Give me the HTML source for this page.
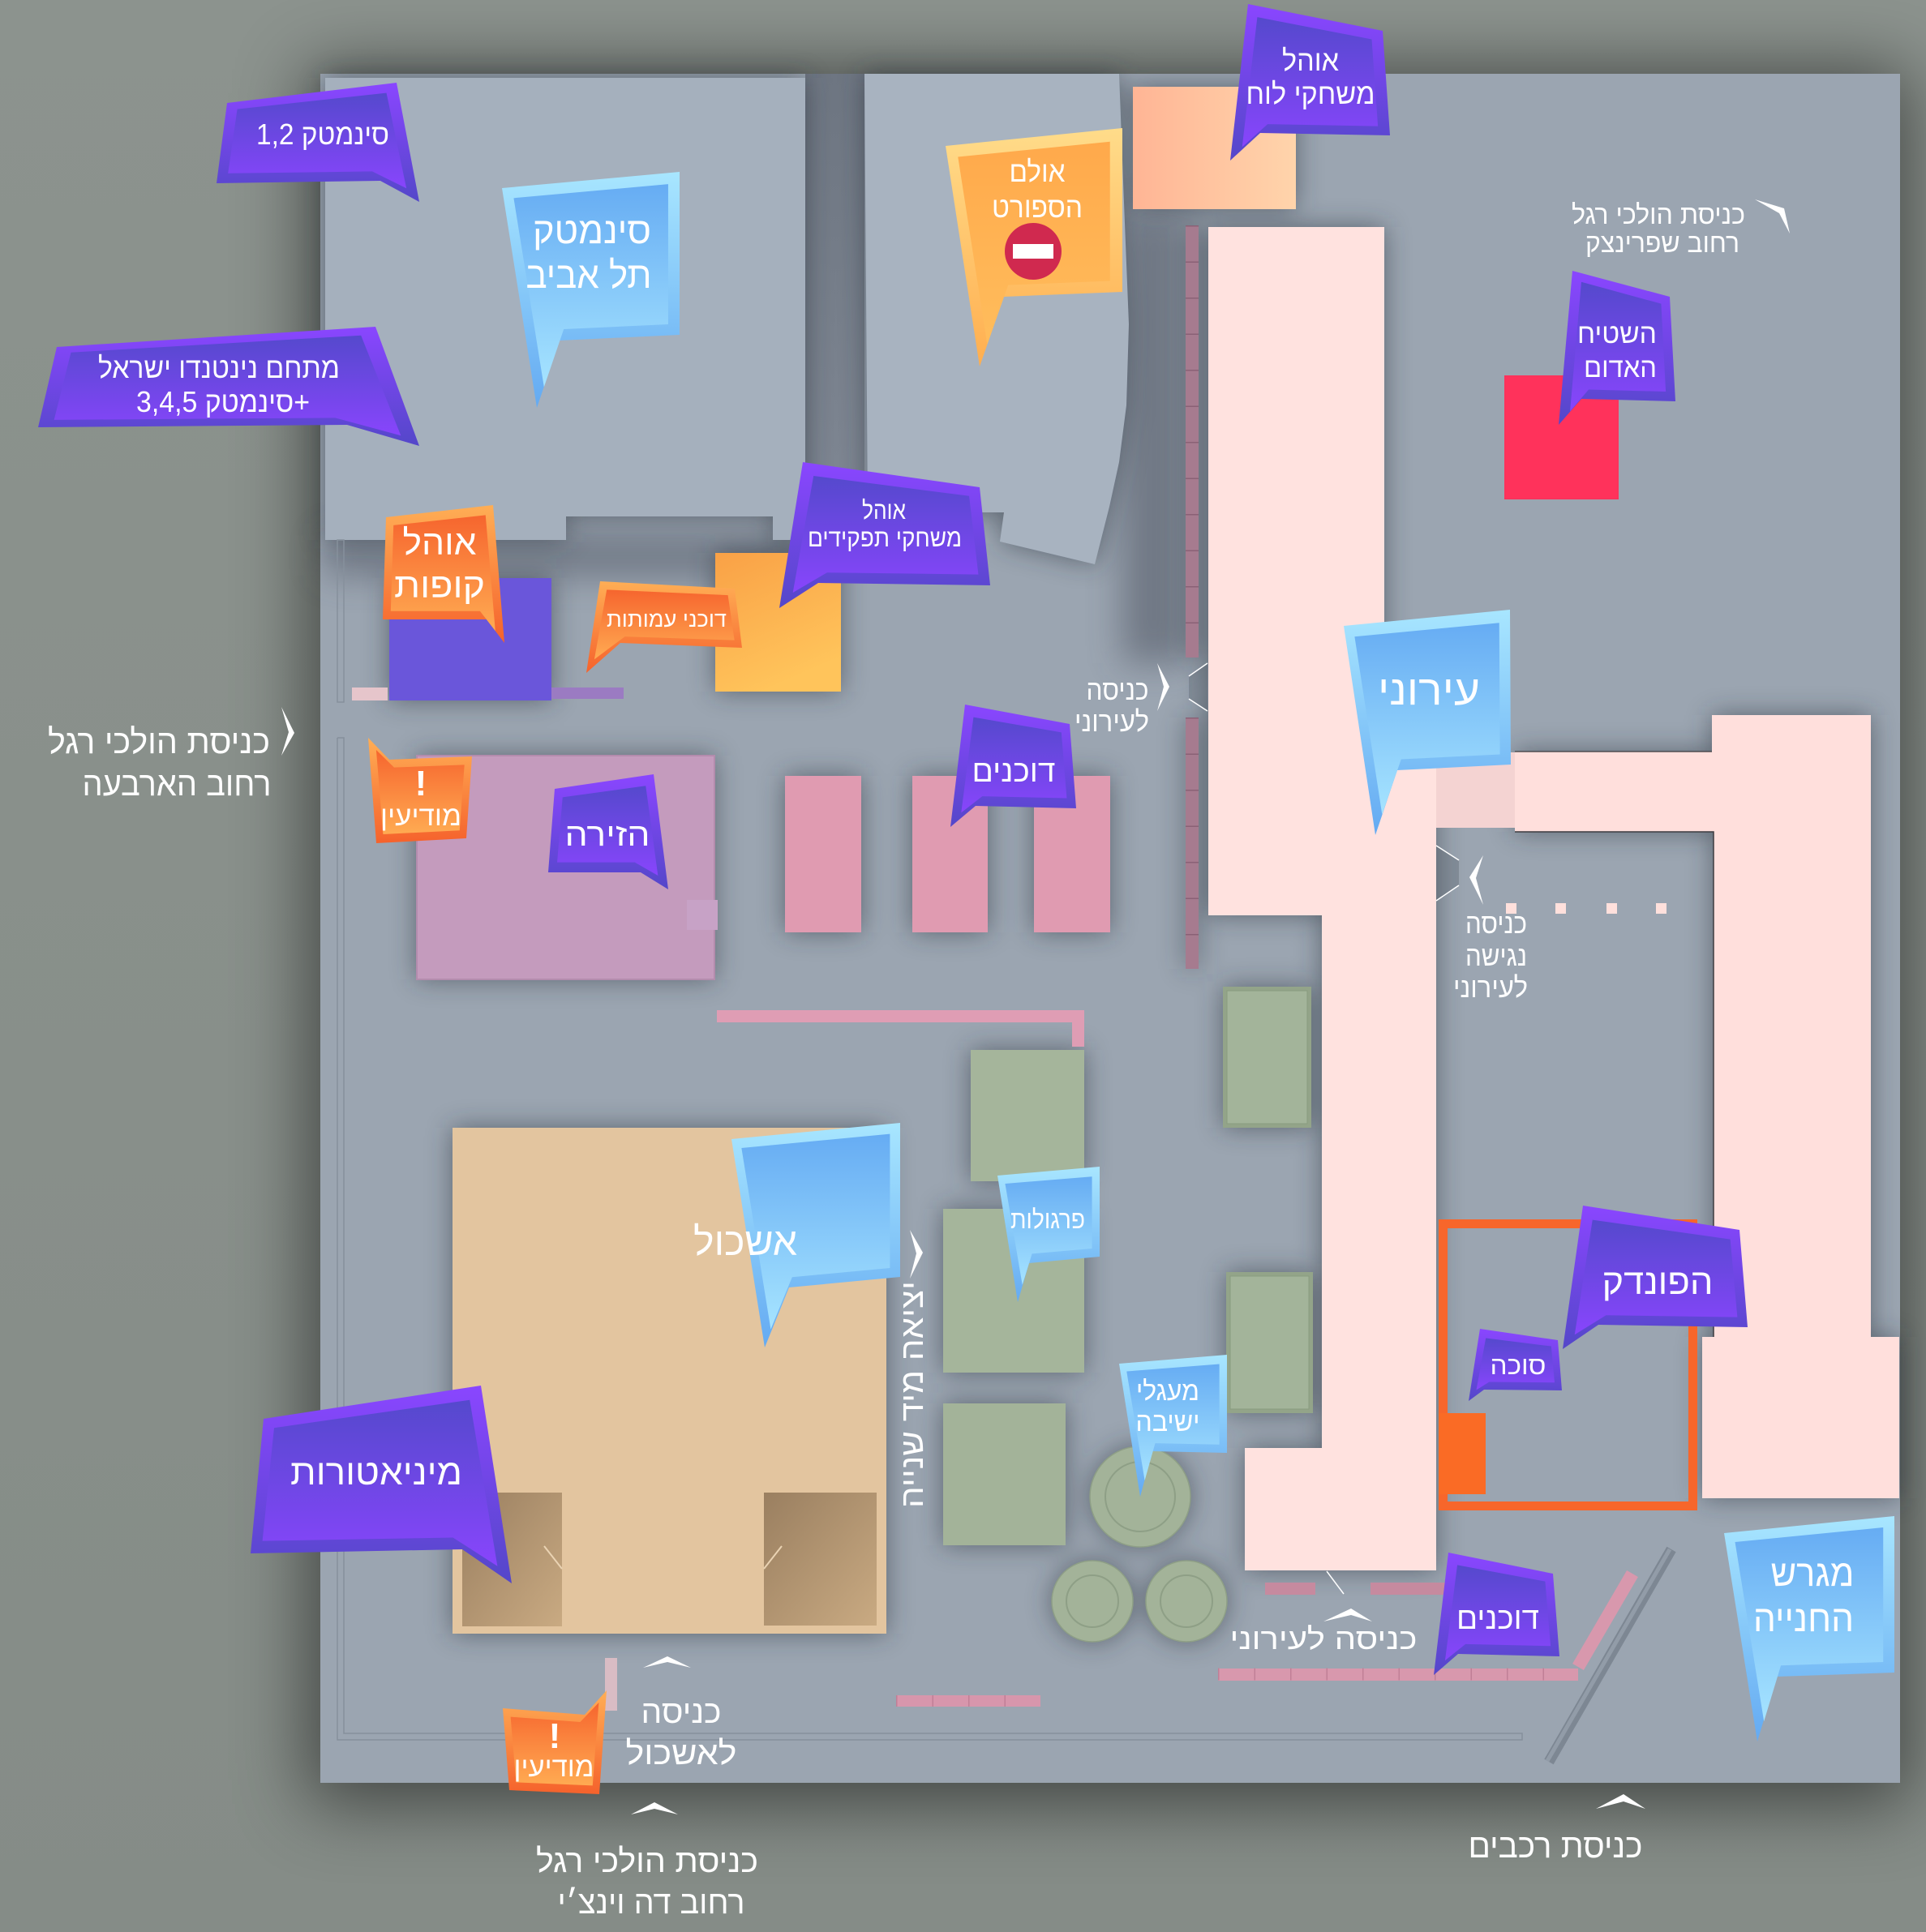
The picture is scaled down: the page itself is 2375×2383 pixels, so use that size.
<!DOCTYPE html>
<html><head><meta charset="utf-8">
<style>
html,body{margin:0;padding:0;background:#899089;}
svg{display:block}
text{font-family:"Liberation Sans","DejaVu Sans",sans-serif;fill:#fff;direction:rtl;unicode-bidi:embed;}
</style></head>
<body>
<svg xmlns="http://www.w3.org/2000/svg" width="2375" height="2383" viewBox="0 0 2375 2383">
<defs>
<filter id="psh" x="-20%" y="-20%" width="140%" height="140%"><feGaussianBlur stdDeviation="45"/></filter>
<filter id="ao" x="-10%" y="-10%" width="120%" height="120%"><feGaussianBlur stdDeviation="16"/></filter>
<filter id="ao2" x="-30%" y="-30%" width="160%" height="160%"><feGaussianBlur stdDeviation="22"/></filter>
<linearGradient id="pO" x1="0" y1="0" x2="0" y2="1"><stop offset="0" stop-color="#8a46ff"/><stop offset="1" stop-color="#5447c9"/></linearGradient>
<linearGradient id="pI" x1="0" y1="0" x2="0" y2="1"><stop offset="0" stop-color="#5549cd"/><stop offset="1" stop-color="#8845fc"/></linearGradient>
<linearGradient id="bO" x1="0" y1="0" x2="0" y2="1"><stop offset="0" stop-color="#a8e6ff"/><stop offset="1" stop-color="#64aaf2"/></linearGradient>
<linearGradient id="bI" x1="0" y1="0" x2="0" y2="1"><stop offset="0" stop-color="#66acf3"/><stop offset="1" stop-color="#a6e4ff"/></linearGradient>
<linearGradient id="oO" x1="0" y1="0" x2="0" y2="1"><stop offset="0" stop-color="#ffae55"/><stop offset="1" stop-color="#f5622c"/></linearGradient>
<linearGradient id="oI" x1="0" y1="0" x2="0" y2="1"><stop offset="0" stop-color="#f6652e"/><stop offset="1" stop-color="#ffab52"/></linearGradient>
<linearGradient id="yO" x1="0" y1="0" x2="0" y2="1"><stop offset="0" stop-color="#ffdc8a"/><stop offset="1" stop-color="#ffae4f"/></linearGradient>
<linearGradient id="yI" x1="0" y1="0" x2="0" y2="1"><stop offset="0" stop-color="#ffa94b"/><stop offset="1" stop-color="#ffbd5c"/></linearGradient>
<linearGradient id="peach" x1="0" y1="0" x2="1" y2="0"><stop offset="0" stop-color="#ffb595"/><stop offset="1" stop-color="#ffd4ab"/></linearGradient>
<linearGradient id="yel" x1="0" y1="0" x2="0.4" y2="1"><stop offset="0" stop-color="#f9a146"/><stop offset="1" stop-color="#ffc45b"/></linearGradient>
<linearGradient id="court" x1="0" y1="0" x2="1" y2="1"><stop offset="0" stop-color="#9a7f60"/><stop offset="1" stop-color="#c9aa82"/></linearGradient>
<linearGradient id="gap" x1="0" y1="0" x2="0" y2="1"><stop offset="0" stop-color="#6e7682"/><stop offset="1" stop-color="#7f8793"/></linearGradient>
<linearGradient id="bgv" x1="0" y1="0" x2="0" y2="1"><stop offset="0" stop-color="#8c938e"/><stop offset="1" stop-color="#858c87"/></linearGradient>
</defs>

<!-- background -->
<rect x="0" y="0" width="2375" height="2383" fill="url(#bgv)"/>
<rect x="380" y="85" width="1975" height="2140" fill="#000" opacity="0.5" filter="url(#psh)"/>
<!-- plate -->
<rect x="395" y="91" width="1948" height="2108" fill="#9ba5b1"/>
<rect x="993" y="91" width="73" height="545" fill="url(#gap)"/>
<g filter="url(#ao2)" fill="#3a414d" opacity="0.45">
<rect x="1384" y="258" width="78" height="560"/>
<rect x="400" y="660" width="600" height="50"/>
</g>

<!-- ambient occlusion -->
<g filter="url(#ao)" fill="#262d38" opacity="0.55">
<polygon points="401,96 993,96 993,666 953,666 953,637 698,637 698,666 401,666"/>
<polygon points="1066,91 1380,91 1386,250 1392,400 1389,500 1380,570 1368,625 1350,696 1233,668 1238,632 1070,632"/>
<rect x="1397" y="107" width="201" height="151"/>
<polygon points="1490,280 1707,280 1707,900 1771,900 1771,1937 1535,1937 1535,1786 1630,1786 1630,1129 1490,1129"/>
<polygon points="1868,927 2111,927 2111,882 2307,882 2307,1649 2342,1649 2342,1848 2099,1848 2099,1649 2113,1649 2113,1026 1868,1026"/>
<rect x="480" y="713" width="200" height="151"/>
<rect x="882" y="682" width="155" height="171"/>
<rect x="514" y="932" width="367" height="276"/>
<rect x="968" y="957" width="94" height="193"/>
<rect x="1125" y="957" width="93" height="193"/>
<rect x="1275" y="957" width="94" height="193"/>
<rect x="1197" y="1295" width="140" height="162"/>
<rect x="1163" y="1491" width="174" height="202"/>
<rect x="1163" y="1731" width="151" height="175"/>
<rect x="1508" y="1217" width="109" height="174"/>
<rect x="1512" y="1569" width="107" height="174"/>
<rect x="558" y="1391" width="535" height="624"/>
<circle cx="1406" cy="1846" r="62"/>
<circle cx="1347" cy="1975" r="50"/>
<circle cx="1463" cy="1975" r="50"/>
<rect x="1462" y="278" width="16" height="533"/>
<rect x="1462" y="885" width="16" height="310"/>
</g>

<!-- buildings -->
<polygon points="401,96 993,96 993,666 953,666 953,637 698,637 698,666 401,666" fill="#a5b0bd"/>
<polygon points="1066,91 1380,91 1386,250 1392,400 1389,500 1380,570 1368,625 1350,696 1233,668 1238,632 1070,632" fill="#a8b3c0"/>
<rect x="1397" y="107" width="201" height="151" fill="url(#peach)"/>
<rect x="1462" y="278" width="16" height="533" fill="#a67b8f"/>
<rect x="1462" y="885" width="16" height="310" fill="#a67b8f"/>
<line x1="1470" y1="278" x2="1470" y2="811" stroke="#8a6176" stroke-width="16" stroke-dasharray="1.5 43"/>
<line x1="1470" y1="885" x2="1470" y2="1195" stroke="#8a6176" stroke-width="16" stroke-dasharray="1.5 43"/>
<polygon points="1490,280 1707,280 1707,900 1771,900 1771,1937 1535,1937 1535,1786 1630,1786 1630,1129 1490,1129" fill="#ffe2df"/>
<rect x="1771" y="928" width="97" height="93" fill="#f4d3d2"/>
<polygon points="1868,927 2111,927 2111,882 2307,882 2307,1649 2342,1649 2342,1848 2099,1848 2099,1649 2113,1649 2113,1026 1868,1026" fill="#ffdfdc"/>
<polyline points="1868,1026 2113,1026 2113,1649" fill="none" stroke="#3c3c40" stroke-width="1.5"/>
<line x1="1868" y1="927" x2="2111" y2="927" stroke="#3c3c40" stroke-width="1.2"/>
<rect x="1855" y="463" width="141" height="153" fill="#ff325b"/>

<!-- entrance marks -->
<polygon points="1466,834 1489,818 1489,877 1466,862" fill="#4d5561" opacity="0.3"/>
<line x1="1466" y1="834" x2="1489" y2="818" stroke="#fff" stroke-width="1.5"/>
<line x1="1466" y1="862" x2="1489" y2="877" stroke="#fff" stroke-width="1.5"/>
<polygon points="1771,1043 1799,1061 1799,1092 1771,1111" fill="#4d5561" opacity="0.3"/>
<line x1="1771" y1="1043" x2="1799" y2="1061" stroke="#fff" stroke-width="1.5"/>
<line x1="1771" y1="1111" x2="1799" y2="1092" stroke="#fff" stroke-width="1.5"/>
<line x1="1636" y1="1938" x2="1657" y2="1966" stroke="#fff" stroke-width="1.5"/>

<!-- columns -->
<rect x="1857" y="1114" width="13" height="13" fill="#ffe0dc"/>
<rect x="1918" y="1114" width="13" height="13" fill="#ffe0dc"/>
<rect x="1981" y="1114" width="13" height="13" fill="#ffe0dc"/>
<rect x="2042" y="1114" width="13" height="13" fill="#ffe0dc"/>

<!-- kupot & stalls -->
<rect x="480" y="713" width="200" height="151" fill="#6a56da"/>
<rect x="434" y="848" width="44" height="16" fill="#e6c5cb"/>
<rect x="680" y="848" width="89" height="14" fill="#9b7bc2"/>
<rect x="882" y="682" width="155" height="171" fill="url(#yel)"/>
<rect x="514" y="932" width="367" height="276" fill="#c49bbd" stroke="#b38cad" stroke-width="2"/>
<rect x="847" y="1110" width="38" height="37" fill="#c7a2c6"/>
<rect x="968" y="957" width="94" height="193" fill="#e09bb1"/>
<rect x="1125" y="957" width="93" height="193" fill="#e09bb1"/>
<rect x="1275" y="957" width="94" height="193" fill="#e09bb1"/>
<rect x="884" y="1246" width="438" height="15" fill="#df9db4"/>
<rect x="1322" y="1246" width="15" height="45" fill="#df9db4"/>

<!-- greens -->
<rect x="1197" y="1295" width="140" height="162" fill="#a5b59b"/>
<rect x="1163" y="1491" width="174" height="202" fill="#a5b59b"/>
<rect x="1163" y="1731" width="151" height="175" fill="#a3b399"/>
<rect x="1508" y="1217" width="109" height="174" fill="#93a489"/>
<rect x="1513" y="1222" width="99" height="164" fill="#a3b49a" stroke="#8a9b80" stroke-width="1"/>
<rect x="1512" y="1569" width="107" height="174" fill="#93a489"/>
<rect x="1517" y="1574" width="97" height="164" fill="#a3b49a" stroke="#8a9b80" stroke-width="1"/>
<circle cx="1406" cy="1846" r="62" fill="#a3b399" stroke="#8e9f86" stroke-width="1.5"/>
<circle cx="1406" cy="1846" r="43" fill="none" stroke="#8e9f86" stroke-width="2"/>
<circle cx="1347" cy="1975" r="50" fill="#a3b399" stroke="#8e9f86" stroke-width="1.5"/>
<circle cx="1347" cy="1975" r="32" fill="none" stroke="#8e9f86" stroke-width="2"/>
<circle cx="1463" cy="1975" r="50" fill="#a3b399" stroke="#8e9f86" stroke-width="1.5"/>
<circle cx="1463" cy="1975" r="32" fill="none" stroke="#8e9f86" stroke-width="2"/>

<!-- Eshkol -->
<rect x="558" y="1391" width="535" height="624" fill="#e3c59f"/>
<rect x="570" y="1841" width="123" height="165" fill="url(#court)"/>
<rect x="942" y="1841" width="139" height="164" fill="url(#court)"/>
<line x1="671" y1="1907" x2="693" y2="1935" stroke="#ead3b3" stroke-width="2"/>
<line x1="964" y1="1907" x2="942" y2="1935" stroke="#ead3b3" stroke-width="2"/>
<rect x="746" y="2045" width="15" height="65" fill="#d9bcc4"/>

<!-- orange frame -->
<rect x="1779.5" y="1509.5" width="308" height="348" fill="none" stroke="#f7662b" stroke-width="11"/>
<rect x="1774" y="1743" width="58" height="100" fill="#fa6b25"/>

<!-- walls bottom -->
<rect x="1105" y="2091" width="178" height="14" fill="#d796ac"/>
<line x1="1105" y1="2098" x2="1283" y2="2098" stroke="#c07f96" stroke-width="14" stroke-dasharray="1.5 43"/>
<rect x="1560" y="1952" width="62" height="15" fill="#c68a9f"/>
<rect x="1690" y="1952" width="110" height="15" fill="#c68a9f"/>
<rect x="1502" y="2058" width="444" height="15" fill="#d898ad"/>
<line x1="1502" y1="2065" x2="1946" y2="2065" stroke="#c07f96" stroke-width="15" stroke-dasharray="1.5 43"/>
<line x1="2013" y1="1941" x2="1946" y2="2056" stroke="#d898ad" stroke-width="16"/>
<line x1="2061" y1="1911" x2="1910" y2="2173" stroke="#7d8793" stroke-width="13"/>
<line x1="2059" y1="1911" x2="1908" y2="2172" stroke="#929ca8" stroke-width="5"/>

<!-- fences -->
<g fill="none" stroke="#86909c" stroke-width="1.5">
<rect x="416" y="666" width="8" height="200"/>
<polyline points="416,910 416,2146 1877,2146 1877,2138 424,2138 424,910 416,910"/>
</g>

<!-- ===== BUBBLES ===== -->
<polygon points="280,127 489,102 517,249 469,223 267,226" fill="url(#pO)"/>
<polygon points="280,127 489,102 517,249 469,223 267,226" fill="url(#pI)" transform="matrix(0.88,0,0,0.8,46.2,33)"/>
<polygon points="70,428 463,403 517,550 428,524 47,527" fill="url(#pO)"/>
<polygon points="70,428 463,403 517,550 428,524 47,527" fill="url(#pI)" transform="matrix(0.91,0,0,0.84,23.85,75.2)"/>
<polygon points="619,232 838,212 838,413 690,420 662,503" fill="url(#bO)"/>
<polygon points="619,232 838,212 838,413 690,420 662,503" fill="url(#bI)" transform="matrix(0.87,0,0,0.86,94.9,44.8)"/>
<polygon points="1166,180 1384,158 1384,360 1238,366 1208,452" fill="url(#yO)"/>
<polygon points="1166,180 1384,158 1384,360 1238,366 1208,452" fill="url(#yI)" transform="matrix(0.86,0,0,0.85,178.5,40.5)"/>
<circle cx="1274" cy="310" r="35" fill="#d0294f"/>
<rect x="1249" y="301" width="50" height="18" fill="#fff"/>
<polygon points="1539,5 1705,38 1714,167 1554,164 1517,198" fill="url(#pO)"/>
<polygon points="1539,5 1705,38 1714,167 1554,164 1517,198" fill="url(#pI)" transform="matrix(0.85,0,0,0.83,242.25,17)"/>
<polygon points="1939,334 2059,366 2066,495 1950,492 1922,524" fill="url(#pO)"/>
<polygon points="1939,334 2059,366 2066,495 1950,492 1922,524" fill="url(#pI)" transform="matrix(0.82,0,0,0.84,360,67.2)"/>
<polygon points="990,570 1208,601 1221,722 1009,719 961,750" fill="url(#pO)"/>
<polygon points="990,570 1208,601 1221,722 1009,719 961,750" fill="url(#pI)" transform="matrix(0.88,0,0,0.8,132,131)"/>
<polygon points="476,638 608,623 622,793 600,764 472,764" fill="url(#oO)"/>
<polygon points="476,638 608,623 622,793 600,764 472,764" fill="url(#oI)" transform="matrix(0.86,0,0,0.84,75.88,112)"/>
<polygon points="740,717 906,726 915,799 765,793 723,830" fill="url(#oO)"/>
<polygon points="740,717 906,726 915,799 765,793 723,830" fill="url(#oI)" transform="matrix(0.9,0,0,0.76,82.2,182.4)"/>
<polygon points="454,910 480,937 582,933 575,1034 464,1040" fill="url(#oO)"/>
<polygon points="454,910 480,937 582,933 575,1034 464,1040" fill="url(#oI)" transform="matrix(0.85,0,0,0.8,78,197)"/>
<polygon points="684,973 806,955 824,1097 790,1076 676,1076" fill="url(#pO)"/>
<polygon points="684,973 806,955 824,1097 790,1076 676,1076" fill="url(#pI)" transform="matrix(0.84,0,0,0.78,119.2,224.4)"/>
<polygon points="1190,869 1319,893 1327,997 1203,994 1172,1020" fill="url(#pO)"/>
<polygon points="1190,869 1319,893 1327,997 1203,994 1172,1020" fill="url(#pI)" transform="matrix(0.84,0,0,0.78,200.8,206.8)"/>
<polygon points="1657,772 1862,752 1863,943 1723,950 1696,1030" fill="url(#bO)"/>
<polygon points="1657,772 1862,752 1863,943 1723,950 1696,1030" fill="url(#bI)" transform="matrix(0.87,0,0,0.85,228.8,129)"/>
<polygon points="902,1405 1110,1385 1110,1575 973,1588 943,1662" fill="url(#bO)"/>
<polygon points="902,1405 1110,1385 1110,1575 973,1588 943,1662" fill="url(#bI)" transform="matrix(0.88,0,0,0.87,120.6,193.7)"/>
<polygon points="1230,1450 1356,1439 1356,1550 1269,1558 1255,1606" fill="url(#bO)"/>
<polygon points="1230,1450 1356,1439 1356,1550 1269,1558 1255,1606" fill="url(#bI)" transform="matrix(0.85,0,0,0.8,193.95,300)"/>
<polygon points="1380,1682 1513,1671 1513,1792 1421,1790 1406,1846" fill="url(#bO)"/>
<polygon points="1380,1682 1513,1671 1513,1792 1421,1790 1406,1846" fill="url(#bI)" transform="matrix(0.86,0,0,0.82,202.44,312.3)"/>
<polygon points="1952,1487 2145,1517 2155,1637 1971,1634 1927,1664" fill="url(#pO)"/>
<polygon points="1952,1487 2145,1517 2155,1637 1971,1634 1927,1664" fill="url(#pI)" transform="matrix(0.88,0,0,0.8,246,315)"/>
<polygon points="1825,1639 1921,1653 1926,1715 1830,1714 1811,1728" fill="url(#pO)"/>
<polygon points="1825,1639 1921,1653 1926,1715 1830,1714 1811,1728" fill="url(#pI)" transform="matrix(0.84,0,0,0.72,299.2,470.4)"/>
<polygon points="1786,1915 1915,1941 1923,2043 1798,2040 1768,2066" fill="url(#pO)"/>
<polygon points="1786,1915 1915,1941 1923,2043 1798,2040 1768,2066" fill="url(#pI)" transform="matrix(0.84,0,0,0.78,296.8,436.7)"/>
<polygon points="2126,1891 2336,1870 2336,2063 2191,2068 2167,2148" fill="url(#bO)"/>
<polygon points="2126,1891 2336,1870 2336,2063 2191,2068 2167,2148" fill="url(#bI)" transform="matrix(0.87,0,0,0.86,289.9,275.8)"/>
<polygon points="325,1750 593,1709 631,1953 570,1911 309,1916" fill="url(#pO)"/>
<polygon points="325,1750 593,1709 631,1953 570,1911 309,1916" fill="url(#pI)" transform="matrix(0.9,0,0,0.84,45.5,291.2)"/>
<polygon points="620,2107 721,2115 748,2085 739,2213 628,2208" fill="url(#oO)"/>
<polygon points="620,2107 721,2115 748,2085 739,2213 628,2208" fill="url(#oI)" transform="matrix(0.85,0,0,0.8,102.6,432)"/>

<!-- chevrons -->
<g fill="#fff">
<polygon points="2164,246 2200,257 2207,288 2194,263"/>
<polygon points="347,872 363,904 347,932 356,903"/>
<polygon points="1427,818 1442,847 1427,877 1435,847"/>
<polygon points="1829,1055 1812,1082 1829,1116 1820,1083"/>
<polygon points="1632,2000 1666,1984 1692,2000 1666,1992"/>
<polygon points="793,2057 823,2043 852,2057 823,2050"/>
<polygon points="778,2238 807,2223 836,2238 807,2231"/>
<polygon points="1968,2231 2002,2213 2029,2231 2002,2222"/>
<polygon points="1122,1517 1138,1545 1122,1577 1130,1546"/>
</g>

<!-- ===== TEXT ===== -->
<g text-anchor="middle">
<text x="398" y="178" font-size="36" textLength="164" lengthAdjust="spacingAndGlyphs">סינמטק 1,2</text>
<text x="270" y="466" font-size="36" textLength="298" lengthAdjust="spacingAndGlyphs">מתחם נינטנדו ישראל</text>
<text x="275" y="508" font-size="36" textLength="214" lengthAdjust="spacingAndGlyphs">+סינמטק 3,4,5</text>
<text x="730" y="300" font-size="46" textLength="146" lengthAdjust="spacingAndGlyphs">סינמטק</text>
<text x="726" y="355" font-size="46" textLength="155" lengthAdjust="spacingAndGlyphs">תל אביב</text>
<text x="1279" y="224" font-size="36" textLength="69" lengthAdjust="spacingAndGlyphs">אולם</text>
<text x="1279" y="268" font-size="36" textLength="112" lengthAdjust="spacingAndGlyphs">הספורט</text>
<text x="1616" y="87" font-size="36" textLength="70" lengthAdjust="spacingAndGlyphs">אוהל</text>
<text x="1616" y="128" font-size="36" textLength="159" lengthAdjust="spacingAndGlyphs">משחקי לוח</text>
<text x="1994" y="423" font-size="34" textLength="98" lengthAdjust="spacingAndGlyphs">השטיח</text>
<text x="1998" y="465" font-size="34" textLength="90" lengthAdjust="spacingAndGlyphs">האדום</text>
<text x="1090" y="640" font-size="31" textLength="54" lengthAdjust="spacingAndGlyphs">אוהל</text>
<text x="1091" y="674" font-size="31" textLength="190" lengthAdjust="spacingAndGlyphs">משחקי תפקידים</text>
<text x="542" y="684" font-size="43" textLength="91" lengthAdjust="spacingAndGlyphs">אוהל</text>
<text x="542" y="737" font-size="43" textLength="112" lengthAdjust="spacingAndGlyphs">קופות</text>
<text x="822" y="773" font-size="27" textLength="148" lengthAdjust="spacingAndGlyphs">דוכני עמותות</text>
<text x="519" y="981" font-size="44" font-weight="bold">!</text>
<text x="519" y="1018" font-size="34" textLength="100" lengthAdjust="spacingAndGlyphs">מודיעין</text>
<text x="749" y="1043" font-size="40" textLength="105" lengthAdjust="spacingAndGlyphs">הזירה</text>
<text x="1250" y="964" font-size="38" textLength="103" lengthAdjust="spacingAndGlyphs">דוכנים</text>
<text x="1762" y="869" font-size="52" textLength="126" lengthAdjust="spacingAndGlyphs">עירוני</text>
<text x="919" y="1548" font-size="48" textLength="128" lengthAdjust="spacingAndGlyphs">אשכול</text>
<text x="1292" y="1515" font-size="32" textLength="92" lengthAdjust="spacingAndGlyphs">פרגולות</text>
<text x="1440" y="1727" font-size="33" textLength="78" lengthAdjust="spacingAndGlyphs">מעגלי</text>
<text x="1440" y="1765" font-size="33" textLength="79" lengthAdjust="spacingAndGlyphs">ישיבה</text>
<text x="2044" y="1596" font-size="44" textLength="137" lengthAdjust="spacingAndGlyphs">הפונדק</text>
<text x="1872" y="1695" font-size="32" textLength="69" lengthAdjust="spacingAndGlyphs">סוכה</text>
<text x="1847" y="2009" font-size="38" textLength="102" lengthAdjust="spacingAndGlyphs">דוכנים</text>
<text x="2235" y="1956" font-size="46" textLength="103" lengthAdjust="spacingAndGlyphs">מגרש</text>
<text x="2224" y="2012" font-size="46" textLength="124" lengthAdjust="spacingAndGlyphs">החנייה</text>
<text x="464" y="1831" font-size="44" textLength="212" lengthAdjust="spacingAndGlyphs">מיניאטורות</text>
<text x="684" y="2156" font-size="44" font-weight="bold">!</text>
<text x="683" y="2191" font-size="34" textLength="99" lengthAdjust="spacingAndGlyphs">מודיעין</text>

<text x="2045" y="276" font-size="33" textLength="214" lengthAdjust="spacingAndGlyphs">כניסת הולכי רגל</text>
<text x="2050" y="311" font-size="33" textLength="190" lengthAdjust="spacingAndGlyphs">רחוב שפרינצק</text>
<text x="196" y="929" font-size="42" textLength="274" lengthAdjust="spacingAndGlyphs">כניסת הולכי רגל</text>
<text x="218" y="981" font-size="42" textLength="233" lengthAdjust="spacingAndGlyphs">רחוב הארבעה</text>
<text x="1378" y="863" font-size="35" textLength="77" lengthAdjust="spacingAndGlyphs">כניסה</text>
<text x="1371" y="902" font-size="35" textLength="92" lengthAdjust="spacingAndGlyphs">לעירוני</text>
<text x="1845" y="1151" font-size="35" textLength="76" lengthAdjust="spacingAndGlyphs">כניסה</text>
<text x="1845" y="1191" font-size="35" textLength="76" lengthAdjust="spacingAndGlyphs">נגישה</text>
<text x="1838" y="1230" font-size="35" textLength="92" lengthAdjust="spacingAndGlyphs">לעירוני</text>
<text x="1632" y="2034" font-size="37" textLength="231" lengthAdjust="spacingAndGlyphs">כניסה לעירוני</text>
<text x="840" y="2125" font-size="40" textLength="99" lengthAdjust="spacingAndGlyphs">כניסה</text>
<text x="840" y="2176" font-size="40" textLength="137" lengthAdjust="spacingAndGlyphs">לאשכול</text>
<text x="798" y="2309" font-size="40" textLength="274" lengthAdjust="spacingAndGlyphs">כניסת הולכי רגל</text>
<text x="803" y="2360" font-size="40" textLength="231" lengthAdjust="spacingAndGlyphs">רחוב דה וינצ׳י</text>
<text x="1918" y="2291" font-size="42" textLength="215" lengthAdjust="spacingAndGlyphs">כניסת רכבים</text>
<text transform="translate(1138,1720) rotate(-90)" x="0" y="0" font-size="40" textLength="280" lengthAdjust="spacingAndGlyphs">יציאה מיד שנייה</text>
</g>
</svg>
</body></html>
